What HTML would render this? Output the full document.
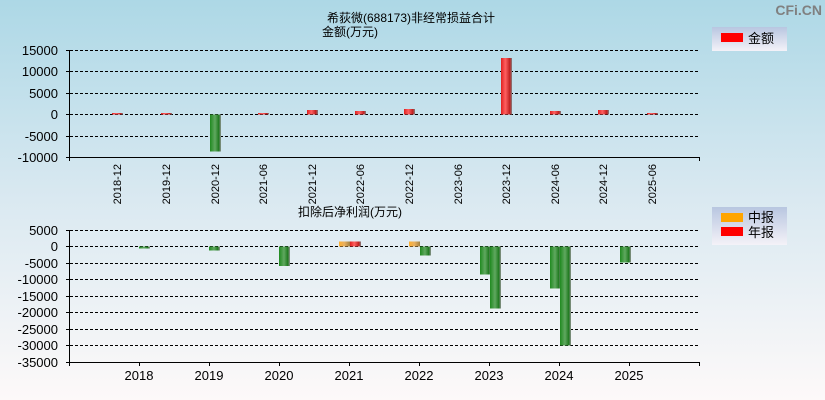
<!DOCTYPE html>
<html><head><meta charset="utf-8"><style>
body{margin:0;width:825px;height:400px;overflow:hidden}
svg{display:block;font-family:"Liberation Sans","Noto Sans CJK SC",sans-serif}
</style></head><body>
<svg width="825" height="400" xmlns="http://www.w3.org/2000/svg">
<defs>
<linearGradient id="bg" x1="0" y1="0" x2="0" y2="1"><stop offset="0" stop-color="#add8e6"/><stop offset="0.5" stop-color="#dae9f1"/><stop offset="1" stop-color="#fdf9f9"/></linearGradient>
<linearGradient id="r" x1="0" y1="0" x2="1" y2="0"><stop offset="0" stop-color="#e02020"/><stop offset="0.4" stop-color="#ff6060"/><stop offset="0.8" stop-color="#c02020"/><stop offset="1" stop-color="#808080"/></linearGradient>
<linearGradient id="g" x1="0" y1="0" x2="1" y2="0"><stop offset="0" stop-color="#208a20"/><stop offset="0.45" stop-color="#60a860"/><stop offset="0.8" stop-color="#207a20"/><stop offset="1" stop-color="#909090"/></linearGradient>
<linearGradient id="o" x1="0" y1="0" x2="1" y2="0"><stop offset="0" stop-color="#ffb030"/><stop offset="0.5" stop-color="#e8b060"/><stop offset="1" stop-color="#a08040"/></linearGradient>
<linearGradient id="lg" x1="0" y1="0" x2="0" y2="1"><stop offset="0" stop-color="#b8c6e0"/><stop offset="1" stop-color="#f4f2f8"/></linearGradient>
</defs>
<rect width="825" height="400" fill="url(#bg)"/>
<text x="822" y="15" font-size="14" font-weight="bold" fill="#808080" text-anchor="end">CFi.CN</text>
<text x="411" y="22" font-size="12" text-anchor="middle">希荻微(688173)非经常损益合计</text>
<text x="322" y="36" font-size="12">金额(万元)</text>
<g stroke="#000" stroke-dasharray="3,2" stroke-width="1">
<line x1="70" y1="50.5" x2="700" y2="50.5"/><line x1="70" y1="71.5" x2="700" y2="71.5"/><line x1="70" y1="93.5" x2="700" y2="93.5"/><line x1="70" y1="114.5" x2="700" y2="114.5"/><line x1="70" y1="136.5" x2="700" y2="136.5"/>
</g>
<g stroke="#000"><line x1="69.5" y1="50" x2="69.5" y2="161"/><line x1="66" y1="157.5" x2="700" y2="157.5"/>
<line x1="66" y1="50.5" x2="70" y2="50.5"/><line x1="66" y1="71.5" x2="70" y2="71.5"/><line x1="66" y1="93.5" x2="70" y2="93.5"/><line x1="66" y1="114.5" x2="70" y2="114.5"/><line x1="66" y1="136.5" x2="70" y2="136.5"/>
<line x1="699.5" y1="157" x2="699.5" y2="161"/></g>
<g font-size="13" text-anchor="end">
<text x="58" y="55">15000</text><text x="58" y="76">10000</text><text x="58" y="98">5000</text><text x="58" y="119">0</text><text x="58" y="141">-5000</text><text x="58" y="162">-10000</text></g>
<g font-size="11" text-anchor="end">
<text transform="translate(121,164) rotate(-90)">2018-12</text>
<text transform="translate(170,164) rotate(-90)">2019-12</text>
<text transform="translate(219,164) rotate(-90)">2020-12</text>
<text transform="translate(267,164) rotate(-90)">2021-06</text>
<text transform="translate(316,164) rotate(-90)">2021-12</text>
<text transform="translate(364,164) rotate(-90)">2022-06</text>
<text transform="translate(413,164) rotate(-90)">2022-12</text>
<text transform="translate(462,164) rotate(-90)">2023-06</text>
<text transform="translate(510,164) rotate(-90)">2023-12</text>
<text transform="translate(559,164) rotate(-90)">2024-06</text>
<text transform="translate(607,164) rotate(-90)">2024-12</text>
<text transform="translate(656,164) rotate(-90)">2025-06</text></g>
<rect x="112" y="113" width="11" height="1.5" fill="url(#r)"/>
<rect x="161" y="113" width="11" height="1.5" fill="url(#r)"/>
<rect x="210" y="114.5" width="11" height="37" fill="url(#g)"/>
<rect x="258" y="113" width="11" height="1.5" fill="url(#r)"/>
<rect x="307" y="110" width="11" height="4.5" fill="url(#r)"/>
<rect x="355" y="111" width="11" height="3.5" fill="url(#r)"/>
<rect x="404" y="109" width="11" height="5.5" fill="url(#r)"/>
<rect x="501" y="58" width="11" height="56.5" fill="url(#r)"/>
<rect x="550" y="111" width="11" height="3.5" fill="url(#r)"/>
<rect x="598" y="110" width="11" height="4.5" fill="url(#r)"/>
<rect x="647" y="113" width="11" height="1.5" fill="url(#r)"/>
<rect x="712" y="27" width="75" height="24" fill="url(#lg)"/>
<rect x="721" y="33" width="22" height="9" fill="#f00"/>
<text x="748" y="43" font-size="13">金额</text>

<text x="298" y="216" font-size="12">扣除后净利润(万元)</text>
<g stroke="#000" stroke-dasharray="3,2">
<line x1="70" y1="230.5" x2="700" y2="230.5"/><line x1="70" y1="246.5" x2="700" y2="246.5"/><line x1="70" y1="263.5" x2="700" y2="263.5"/><line x1="70" y1="279.5" x2="700" y2="279.5"/><line x1="70" y1="296.5" x2="700" y2="296.5"/><line x1="70" y1="312.5" x2="700" y2="312.5"/><line x1="70" y1="329.5" x2="700" y2="329.5"/><line x1="70" y1="345.5" x2="700" y2="345.5"/></g>
<g stroke="#000"><line x1="69.5" y1="230" x2="69.5" y2="366"/><line x1="66" y1="362.5" x2="700" y2="362.5"/>
<line x1="66" y1="230.5" x2="70" y2="230.5"/><line x1="66" y1="246.5" x2="70" y2="246.5"/><line x1="66" y1="263.5" x2="70" y2="263.5"/><line x1="66" y1="279.5" x2="70" y2="279.5"/><line x1="66" y1="296.5" x2="70" y2="296.5"/><line x1="66" y1="312.5" x2="70" y2="312.5"/><line x1="66" y1="329.5" x2="70" y2="329.5"/><line x1="66" y1="345.5" x2="70" y2="345.5"/>
<line x1="139.5" y1="362" x2="139.5" y2="366"/><line x1="209.5" y1="362" x2="209.5" y2="366"/><line x1="279.5" y1="362" x2="279.5" y2="366"/><line x1="349.5" y1="362" x2="349.5" y2="366"/><line x1="419.5" y1="362" x2="419.5" y2="366"/><line x1="489.5" y1="362" x2="489.5" y2="366"/><line x1="559.5" y1="362" x2="559.5" y2="366"/><line x1="629.5" y1="362" x2="629.5" y2="366"/><line x1="699.5" y1="362" x2="699.5" y2="366"/></g>
<g font-size="13" text-anchor="end">
<text x="58" y="235">5000</text><text x="58" y="251">0</text><text x="58" y="268">-5000</text><text x="58" y="284">-10000</text><text x="58" y="301">-15000</text><text x="58" y="317">-20000</text><text x="58" y="334">-25000</text><text x="58" y="350">-30000</text><text x="58" y="367">-35000</text></g>
<g font-size="13" text-anchor="middle">
<text x="139" y="380">2018</text><text x="209" y="380">2019</text><text x="279" y="380">2020</text><text x="349" y="380">2021</text><text x="419" y="380">2022</text><text x="489" y="380">2023</text><text x="559" y="380">2024</text><text x="629" y="380">2025</text></g>
<rect x="139" y="246.5" width="11" height="2" fill="url(#g)"/>
<rect x="209" y="246.5" width="11" height="4" fill="url(#g)"/>
<rect x="279" y="246.5" width="11" height="19.5" fill="url(#g)"/>
<rect x="339" y="241.5" width="11" height="5" fill="url(#o)"/>
<rect x="350" y="241.5" width="11" height="5" fill="url(#r)"/>
<rect x="409" y="241.5" width="11" height="5" fill="url(#o)"/>
<rect x="420" y="246.5" width="11" height="9" fill="url(#g)"/>
<rect x="480" y="246.5" width="11" height="28" fill="url(#g)"/>
<rect x="490" y="246.5" width="11" height="62" fill="url(#g)"/>
<rect x="550" y="246.5" width="11" height="42" fill="url(#g)"/>
<rect x="560" y="246.5" width="11" height="99" fill="url(#g)"/>
<rect x="620" y="246.5" width="11" height="16" fill="url(#g)"/>
<rect x="712" y="207" width="75" height="38" fill="url(#lg)"/>
<rect x="721" y="213" width="22" height="9" fill="#ffa500"/>
<rect x="721" y="227" width="22" height="9" fill="#f00"/>
<text x="748" y="222" font-size="13">中报</text>
<text x="748" y="237" font-size="13">年报</text>
</svg>
</body></html>
